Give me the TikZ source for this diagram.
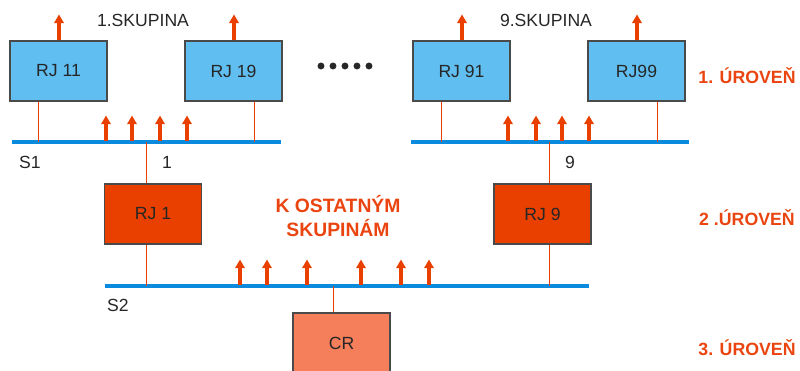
\documentclass[tikz,border=0pt]{standalone}
\usepackage{fontspec}
\setmainfont{Liberation Sans}
\usetikzlibrary{arrows.meta,calc}
\definecolor{boxblue}{HTML}{60BEF0}
\definecolor{busblue}{HTML}{0A8ADC}
\definecolor{redor}{HTML}{E94000}
\definecolor{salmon}{HTML}{F47F5A}
\definecolor{txtor}{HTML}{EA4510}
\definecolor{edge}{HTML}{4A4A4A}
\begin{document}
\begin{tikzpicture}[x=0.75pt,y=-0.75pt,
  rjbox/.style={draw=edge,line width=0.9pt,minimum width=72.75pt,minimum height=45pt,inner sep=0pt,font=\fontsize{13.2}{15}\selectfont,text=black!85},
  l1box/.style={rjbox,fill=boxblue},
  l2box/.style={rjbox,fill=redor},
  l3box/.style={rjbox,fill=salmon},
  bus/.style={busblue,line width=3.2pt},
  link/.style={redor,line width=0.8pt},
  uparrow/.style={redor,line width=3pt,-{Triangle[width=7pt,length=6.5pt]}},
  lbl/.style={font=\fontsize{13.2}{15}\selectfont,text=black!85,inner sep=0pt},
  lvl/.style={font=\bfseries\fontsize{13.3}{15}\selectfont,text=txtor,inner sep=0pt}]
\useasboundingbox (0,0) rectangle (800,371);
% level 1 boxes
\node[l1box] (rj11) at (58.5,71) {RJ 11};
\node[l1box] (rj19) at (233.5,71) {RJ 19};
\node[l1box] (rj91) at (461.5,71) {RJ 91};
\node[l1box] (rj99) at (636.5,71) {RJ99};
% level 2 boxes
\node[l2box] (rj1) at (153,214) {RJ 1};
\node[l2box] (rj9) at (542.5,214) {RJ 9};
% level 3 box
\node[l3box] (cr) at (341.5,343) {CR};
% buses
\coordinate (s1a) at (12,142); \coordinate (s1b) at (281,142);
\coordinate (s9a) at (411,142); \coordinate (s9b) at (689,142);
\coordinate (s2a) at (105,286); \coordinate (s2b) at (589,286);
\draw[bus] (s1a) -- (s1b);
\draw[bus] (s9a) -- (s9b);
\draw[bus] (s2a) -- (s2b);
% links from boxes to buses
\foreach \b/\f/\s in {rj11/0.3/s1a, rj19/0.71/s1a, rj91/0.3/s9a, rj99/0.71/s9a, rj1/0.43/s2a, rj9/0.57/s2a}{
  \coordinate (p) at ($(\b.south west)!\f!(\b.south east)$);
  \draw[link] (p) -- (p |- \s);
}
\foreach \b/\f/\s in {rj1/0.43/s1a, rj9/0.57/s9a, cr/0.42/s2a}{
  \coordinate (p) at ($(\b.north west)!\f!(\b.north east)$);
  \draw[link] (p) -- (p |- \s);
}
% arrows above level-1 boxes
\foreach \b/\n in {rj11/a,rj19/b,rj91/c,rj99/d}{
  \coordinate (top\n) at ($(\b.north)+(0.5,-26)$);
  \draw[uparrow] (\b.north -| top\n) -- (top\n);
}
% arrows on S1 and S9
\foreach \x in {106,132,160,187,508,536,562,589}{
  \draw[uparrow] (\x,140.5) -- (\x,115.5);
}
% arrows on S2
\foreach \x in {240,267,307,361,401,429}{
  \draw[uparrow] (\x,284.5) -- (\x,259.5);
}
% dots
\foreach \x in {321,333,345,357,369}{
  \fill[black!85] (\x,66) circle (2.6pt);
}
% labels
\node[lbl] (sk1) at (143,20) {1.SKUPINA};
\node[lbl] (sk9) at (546,20) {9.SKUPINA};
\node[lbl] (ls1) at (30,162) {S1};
\node[lbl] (l1) at (167,162) {1};
\node[lbl] (l9) at (570,162) {9};
\node[lbl] (ls2) at (118,305) {S2};
\node[lvl,font=\bfseries\fontsize{14.5}{18}\selectfont,align=center] (kost) at (338,216) {K OSTATNÝM\\SKUPINÁM};
\node[lvl] (u1) at (747,76) {1. ÚROVEŇ};
\node[lvl] (u2) at (747,218) {2 .ÚROVEŇ};
\node[lvl] (u3) at (747,348) {3. ÚROVEŇ};
\end{tikzpicture}
\end{document}
